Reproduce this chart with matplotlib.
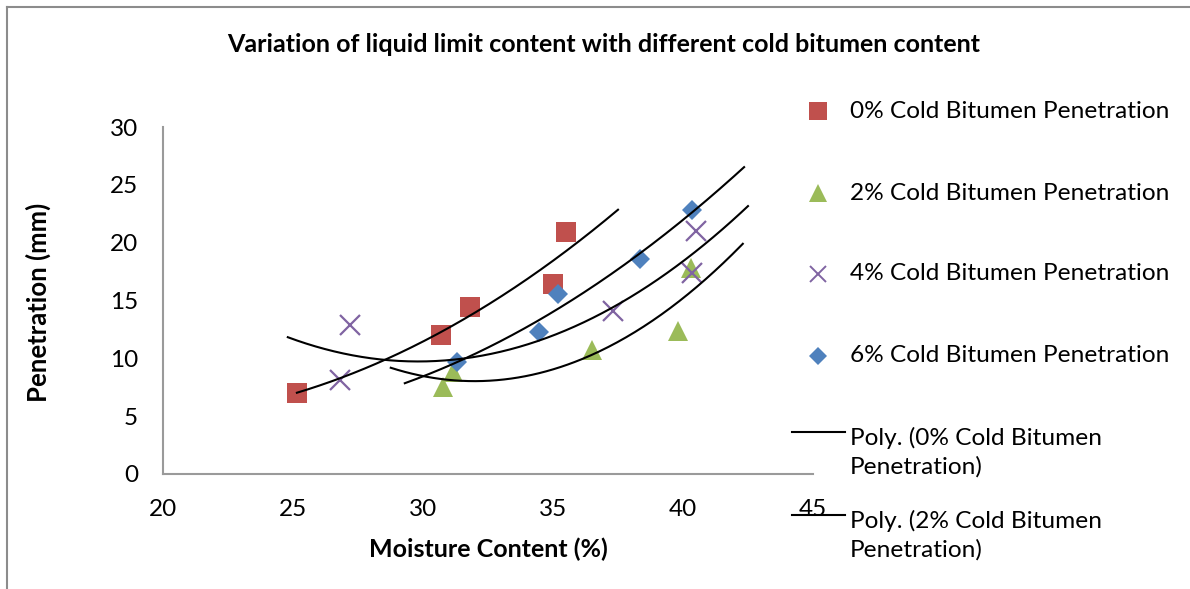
import matplotlib
matplotlib.use('agg')
from matplotlib import pyplot as plt
from matplotlib.lines import Line2D
import numpy as np

plt.rcParams['font.family'] = ['Lato', 'DejaVu Sans']

W, H = 1190, 589

# data
series_names = ['0% Cold Bitumen Penetration', '2% Cold Bitumen Penetration',
                '4% Cold Bitumen Penetration', '6% Cold Bitumen Penetration']
moisture_0 = [25.15, 30.7, 31.8, 35.0, 35.5]
pen_0 = [7.0, 12.0, 14.4, 16.4, 20.9]
moisture_2 = [30.76, 31.15, 36.5, 39.8, 40.3]
pen_2 = [7.5, 8.8, 10.7, 12.4, 17.8]
moisture_4 = [26.8, 27.2, 37.3, 40.35, 40.5]
pen_4 = [8.1, 12.85, 14.1, 17.4, 21.0]
moisture_6 = [31.3, 34.45, 35.2, 38.35, 40.35]
pen_6 = [9.7, 12.3, 15.55, 18.6, 22.8]

# trendline forecast (backward, forward) like excel
trend_back = [0, 2, 2, 2]
trend_fwd = [2, 2, 2, 2]

xs = [moisture_0, moisture_2, moisture_4, moisture_6]
ys = [pen_0, pen_2, pen_4, pen_6]
colors = ['#C0504D', '#9BBB59', '#8064A2', '#4F81BD']
markers = ['s', '^', 'x', 'D']
msizes = [14.5, 15, 14, 10.5]


def fx(px):
    return px / W


def fy(py):
    return 1 - py / H


fig = plt.figure(figsize=(W / 100, H / 100), dpi=100)
ax = fig.add_axes([fx(163), fy(474), (813 - 163) / W, (474 - 127) / H])

for x, y, c, m, ms in zip(xs, ys, colors, markers, msizes):
    if m == 'x':
        ax.plot(x, y, ls='none', marker=m, ms=ms, mew=1.6, color=c, zorder=3)
    else:
        ax.plot(x, y, ls='none', marker=m, ms=ms, mew=0, color=c, zorder=3)

for x, y, b, f in zip(xs, ys, trend_back, trend_fwd):
    coef = np.polyfit(x, y, 2)
    xx = np.linspace(min(x) - b, max(x) + f, 200)
    ax.plot(xx, np.polyval(coef, xx), color='black', lw=1.5, zorder=4)

ax.set_xlim(20, 45)
ax.set_ylim(0, 30)
ax.set_xticks(range(20, 46, 5))
ax.set_yticks(range(0, 31, 5))
for s in ['top', 'right']:
    ax.spines[s].set_visible(False)
for s in ['left', 'bottom']:
    ax.spines[s].set_color('#9a9a9a')
    ax.spines[s].set_linewidth(1.5)
ax.tick_params(length=0, labelsize=17.5, pad=18)
ax.patch.set_alpha(0)

fig.text(fx(604), fy(45), 'Variation of liquid limit content with different cold bitumen content',
         ha='center', va='center', fontsize=18, fontweight='bold')
fig.text(fx(38), fy(302), 'Penetration (mm)', rotation=90, ha='center', va='center',
         fontsize=18.5, fontweight='bold')
fig.text(fx(488), fy(549), 'Moisture Content (%)', ha='center', va='center',
         fontsize=18, fontweight='bold')

# legend drawn by hand, excel style (the poly 4%/6% rows fall off the bottom)
leg_rows = [111, 193, 274, 356, 452, 535]
leg_labels = series_names + ['Poly. (%s\nPenetration)' % n.replace(' Penetration', '')
                             for n in series_names[:2]]
for i, (ry, lab) in enumerate(zip(leg_rows, leg_labels)):
    if i < 4:
        fig.add_artist(Line2D([fx(818)], [fy(ry)], ls='none', marker=markers[i],
                              ms=msizes[i] * 0.85, color=colors[i],
                              mew=1.4 if markers[i] == 'x' else 0))
    else:
        fig.add_artist(Line2D([fx(792), fx(845)], [fy(ry - 20), fy(ry - 20)],
                              color='black', lw=1.5))
    fig.text(fx(850), fy(ry), lab, ha='left', va='center', fontsize=17.6,
             linespacing=1.4)

# outer chart border
fig.add_artist(Line2D([fx(7), fx(7)], [fy(7), 0], color='#8c8c8c', lw=1.5))
fig.add_artist(Line2D([fx(7), 1], [fy(7), fy(7)], color='#8c8c8c', lw=1.5))

fig.savefig('out.png', dpi=100)
